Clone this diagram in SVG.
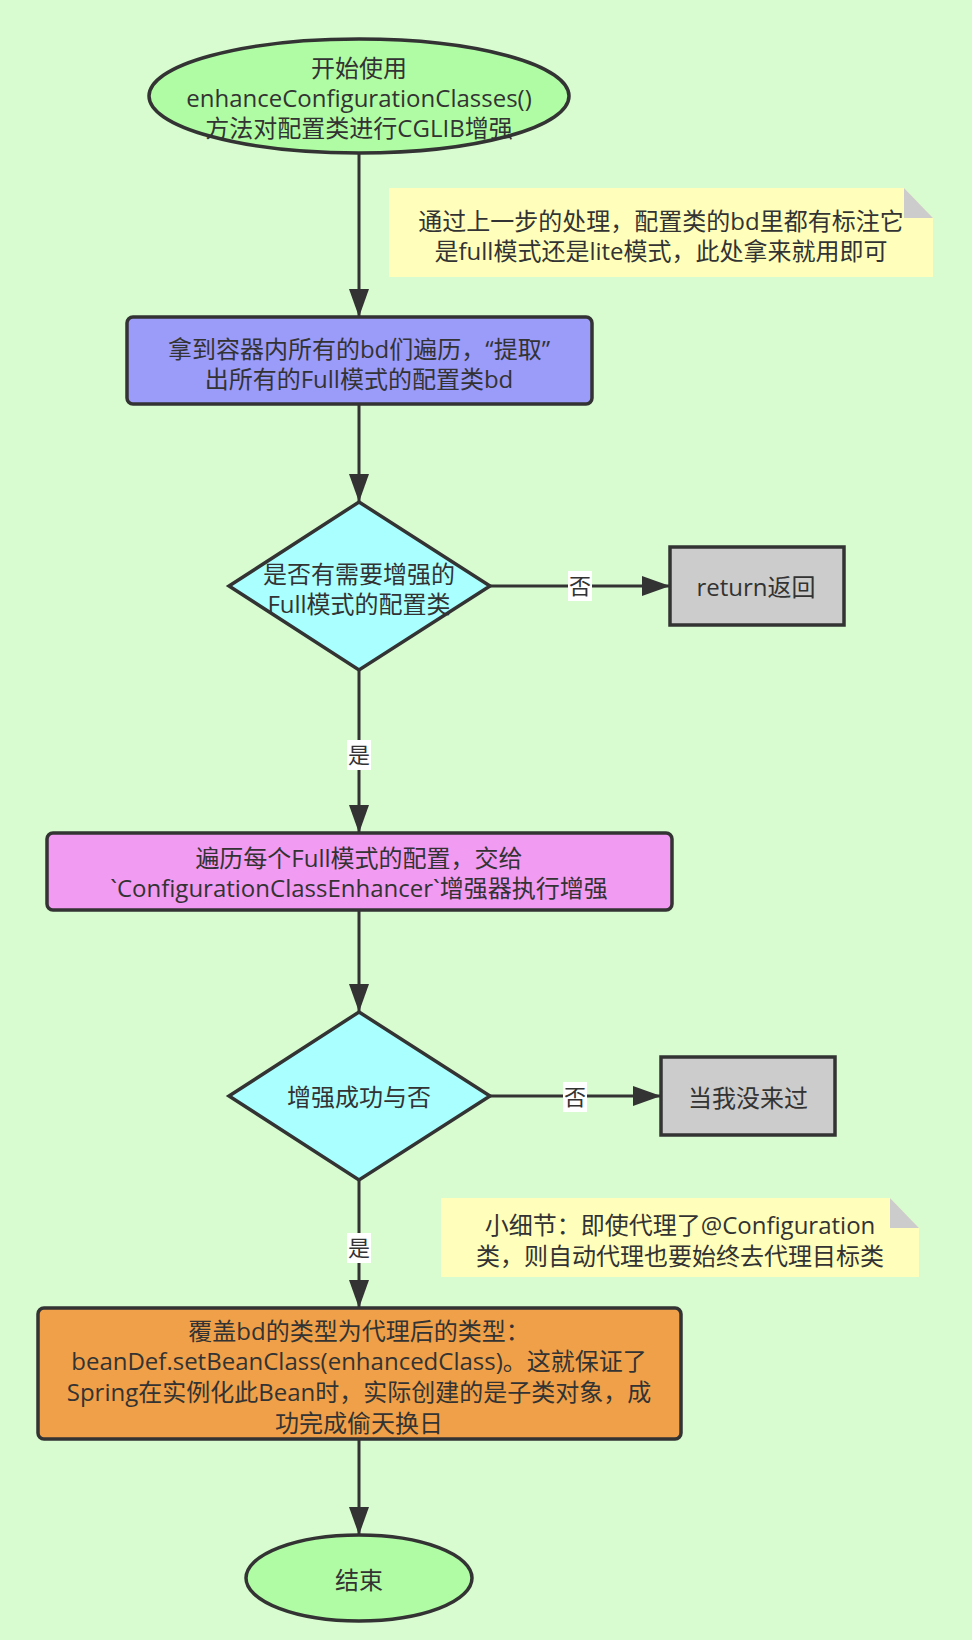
<svg xmlns="http://www.w3.org/2000/svg" width="972" height="1640" viewBox="0 0 972 1640">
<defs>
<marker id="arr" markerUnits="userSpaceOnUse" markerWidth="30" markerHeight="22" refX="28" refY="10" orient="auto">
<path d="M0,0 L28,10 L0,20 Z" fill="#333"/>
</marker>
<style>
text{font-family:"Open Sans","Noto Sans CJK SC",sans-serif;font-size:24px;fill:#333;text-anchor:middle}
.lbl{font-size:22px}
.node{stroke:#333;stroke-width:3.5}
.term{fill:#b0fca4}
.edge{stroke:#333;stroke-width:3;fill:none;marker-end:url(#arr)}
.lblbg{fill:#ffffff}
.note{fill:#ffffbb}
.fold{fill:#cccccc}
</style>
</defs>
<rect width="972" height="1640" fill="#d8fcd0"/>
<g id="connectors">
<path class="edge" d="M359,153 L359,317"/>
<path class="edge" d="M359,404 L359,502"/>
<path class="edge" d="M490,586 L670,586"/>
<path class="edge" d="M359,670 L359,833"/>
<path class="edge" d="M359,910 L359,1012"/>
<path class="edge" d="M490,1096 L661,1096"/>
<path class="edge" d="M359,1180 L359,1308"/>
<path class="edge" d="M359,1439 L359,1535"/>
<rect class="lblbg" x="568" y="571" width="24" height="30"/>
<text class="lbl" x="580" y="594">否</text>
<rect class="lblbg" x="347" y="740" width="24" height="30"/>
<text class="lbl" x="359" y="763">是</text>
<rect class="lblbg" x="563" y="1082" width="24" height="30"/>
<text class="lbl" x="575" y="1105">否</text>
<rect class="lblbg" x="347" y="1233" width="24" height="30"/>
<text class="lbl" x="359" y="1256">是</text>
</g>
<g id="start">
<ellipse class="node term" cx="359" cy="96" rx="210" ry="57"/>
<text x="359" y="77">开始使用</text>
<text x="359" y="107">enhanceConfigurationClasses()</text>
<text x="359" y="137">方法对配置类进行CGLIB增强</text>
</g>
<g id="note1">
<polygon class="note" points="389,188 904,188 933,218 933,277 389,277"/>
<polygon class="fold" points="904,188 904,218 933,218"/>
<text x="661" y="230">通过上一步的处理，配置类的bd里都有标注它</text>
<text x="661" y="260">是full模式还是lite模式，此处拿来就用即可</text>
</g>
<g id="collect">
<rect class="node" x="127" y="317" width="465" height="87" rx="6" fill="#9b9bfa"/>
<text x="359" y="358">拿到容器内所有的bd们遍历，“提取”</text>
<text x="359" y="388">出所有的Full模式的配置类bd</text>
</g>
<g id="decision1">
<polygon class="node" points="359,502 490,586 359,670 229,586" fill="#aaffff"/>
<text x="359" y="583">是否有需要增强的</text>
<text x="359" y="613">Full模式的配置类</text>
</g>
<g id="return">
<rect class="node" x="670" y="547" width="174" height="78" fill="#cccccc"/>
<text x="756" y="596">return返回</text>
</g>
<g id="enhance">
<rect class="node" x="47" y="833" width="625" height="77" rx="6" fill="#f29bf2"/>
<text x="359" y="867">遍历每个Full模式的配置，交给</text>
<text x="359" y="897">`ConfigurationClassEnhancer`增强器执行增强</text>
</g>
<g id="decision2">
<polygon class="node" points="359,1012 490,1096 359,1180 229,1096" fill="#aaffff"/>
<text x="359" y="1106">增强成功与否</text>
</g>
<g id="skip">
<rect class="node" x="661" y="1057" width="174" height="78" fill="#cccccc"/>
<text x="748" y="1107">当我没来过</text>
</g>
<g id="note2">
<polygon class="note" points="441,1198 890,1198 919,1228 919,1277 441,1277"/>
<polygon class="fold" points="890,1198 890,1228 919,1228"/>
<text x="680" y="1234">小细节：即使代理了@Configuration</text>
<text x="680" y="1265">类，则自动代理也要始终去代理目标类</text>
</g>
<g id="override">
<rect class="node" x="38" y="1308" width="643" height="131" rx="6" fill="#f0a048"/>
<text x="359" y="1340">覆盖bd的类型为代理后的类型：</text>
<text x="359" y="1370">beanDef.setBeanClass(enhancedClass)。这就保证了</text>
<text x="359" y="1401">Spring在实例化此Bean时，实际创建的是子类对象，成</text>
<text x="359" y="1432">功完成偷天换日</text>
</g>
<g id="end">
<ellipse class="node term" cx="359" cy="1578" rx="113" ry="43"/>
<text x="359" y="1589">结束</text>
</g>
</svg>
